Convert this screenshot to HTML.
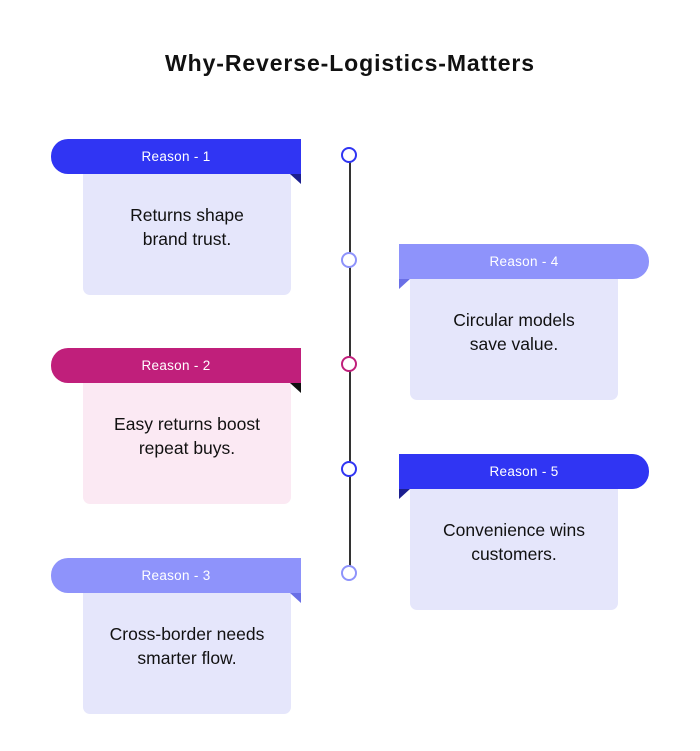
<!DOCTYPE html>
<html><head><style>
body{margin:0;width:700px;height:751px;background:#fff;font-family:"Liberation Sans",sans-serif;position:relative;overflow:hidden}
.t{position:absolute;left:0;width:700px;top:50px;text-align:center;font-weight:bold;font-size:23px;letter-spacing:0.9px;color:#111}
.h{position:absolute;width:250px;height:35px;line-height:35px;color:#fff;font-size:13.5px;letter-spacing:0.3px;text-align:center}
.L{border-radius:17px 0 0 17px}
.R{border-radius:0 17px 17px 0}
.b{position:absolute;width:208px;height:121px;border-radius:0 0 7px 7px;font-size:17.5px;line-height:24px;color:#111;text-align:center;box-sizing:border-box;padding-top:29px}
.f{position:absolute;width:0;height:0}
.c{position:absolute;width:12px;height:12px;border-radius:50%;border:2.5px solid;background:#fff}
.line{position:absolute;left:349px;top:160px;width:1.5px;height:410px;background:#333}
</style></head><body>
<div class="t">Why-Reverse-Logistics-Matters</div>
<div class="line"></div>

<div class="b" style="left:83px;top:174px;background:#e5e6fb">Returns shape<br>brand trust.</div>
<div class="h L" style="left:51px;top:139px;background:#3035f3">Reason - 1</div>
<div class="f" style="left:290px;top:174px;border-top:10px solid #1c1f8f;border-left:11px solid transparent"></div>

<div class="b" style="left:83px;top:383px;background:#fbe9f3">Easy returns boost<br>repeat buys.</div>
<div class="h L" style="left:51px;top:348px;background:#c01f7b">Reason - 2</div>
<div class="f" style="left:290px;top:383px;border-top:10px solid #111;border-left:11px solid transparent"></div>

<div class="b" style="left:83px;top:593px;background:#e5e6fb">Cross-border needs<br>smarter flow.</div>
<div class="h L" style="left:51px;top:558px;background:#8e93fb">Reason - 3</div>
<div class="f" style="left:290px;top:593px;border-top:10px solid #6a6fe6;border-left:11px solid transparent"></div>

<div class="b" style="left:410px;top:279px;background:#e5e6fb">Circular models<br>save value.</div>
<div class="h R" style="left:399px;top:244px;background:#8e93fb">Reason - 4</div>
<div class="f" style="left:399px;top:279px;border-top:10px solid #6a6fe6;border-right:11px solid transparent"></div>

<div class="b" style="left:410px;top:489px;background:#e5e6fb">Convenience wins<br>customers.</div>
<div class="h R" style="left:399px;top:454px;background:#3035f3">Reason - 5</div>
<div class="f" style="left:399px;top:489px;border-top:10px solid #1c1f8f;border-right:11px solid transparent"></div>

<div class="c" style="left:341px;top:147px;border-color:#3035f3"></div>
<div class="c" style="left:341px;top:252px;border-color:#8e93fb"></div>
<div class="c" style="left:341px;top:356px;border-color:#c01f7b"></div>
<div class="c" style="left:341px;top:461px;border-color:#3035f3"></div>
<div class="c" style="left:341px;top:565px;border-color:#8e93fb"></div>
</body></html>
